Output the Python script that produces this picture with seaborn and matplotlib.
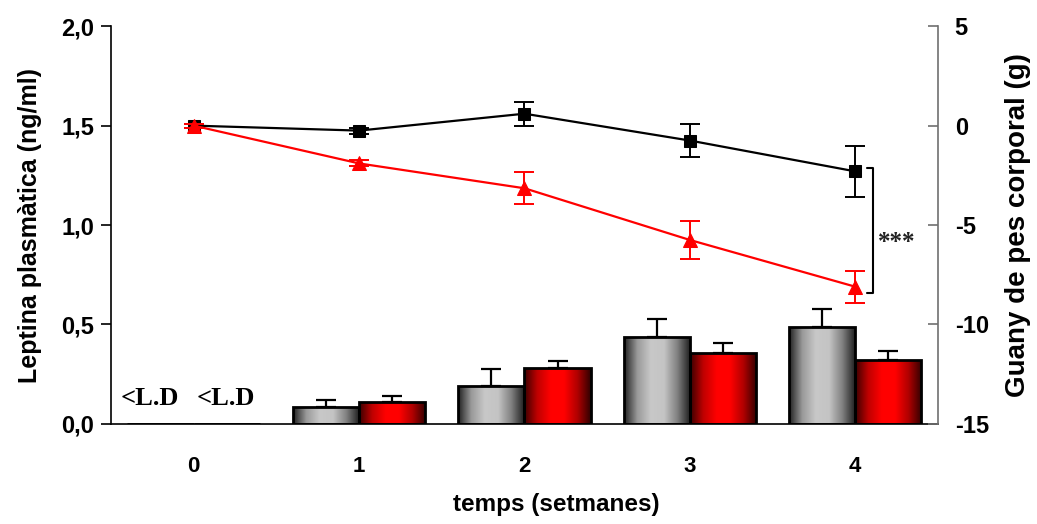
import numpy as np
import pandas as pd
import matplotlib
matplotlib.use("Agg")
import matplotlib.pyplot as plt
from matplotlib.colors import LinearSegmentedColormap
import seaborn as sns

# ==========================
# Data
# ==========================
weeks = [0, 1, 2, 3, 4]
week_labels = ["0", "1", "2", "3", "4"]

# leptin bars (left axis, ng/ml)
leptin_ctrl = [0.0, 0.085, 0.19, 0.435, 0.485]
leptin_ctrl_err = [0.0, 0.035, 0.085, 0.095, 0.095]
leptin_trt = [0.0, 0.11, 0.28, 0.355, 0.32]
leptin_trt_err = [0.0, 0.03, 0.035, 0.05, 0.045]

# body weight gain (right axis, g)
gain_ctrl = [0.0, -0.25, 0.6, -0.75, -2.3]
gain_ctrl_err = [0.1, 0.15, 0.6, 0.85, 1.3]
gain_trt = [0.0, -1.9, -3.15, -5.75, -8.1]
gain_trt_err = [0.1, 0.15, 0.8, 0.95, 0.8]

sns.set_theme(style="white")
plt.rcParams["font.family"] = ["Liberation Sans", "DejaVu Sans"]
plt.rcParams["font.weight"] = "bold"
plt.rcParams["text.color"] = "black"
plt.rcParams["axes.labelcolor"] = "black"
plt.rcParams["xtick.labelcolor"] = "black"
plt.rcParams["ytick.labelcolor"] = "black"
serif = ["Liberation Serif", "DejaVu Serif"]

fig = plt.figure(figsize=(10.37, 5.24), dpi=100)
ax = fig.add_axes([0.107, 0.191, 0.7975, 0.759])

df = pd.DataFrame({
    "week": week_labels * 2,
    "leptin": leptin_ctrl + leptin_trt,
    "group": ["ctrl"] * 5 + ["trt"] * 5,
})
sns.barplot(data=df, x="week", y="leptin", hue="group", ax=ax,
            palette={"ctrl": "#b0b0b0", "trt": "#ff0000"}, width=0.8,
            edgecolor="black", linewidth=2, legend=False, zorder=2)

# cylinder-like gradient fills
cm_gray = LinearSegmentedColormap.from_list(
    "g", ["#202020", "#9a9a9a", "#c8c8c8", "#c4c4c4", "#808080", "#1a1a1a"])
cm_red = LinearSegmentedColormap.from_list(
    "r", ["#3a0000", "#c00000", "#ff0000", "#ff0000", "#b00000", "#300000"])
grad = np.linspace(0, 1, 256).reshape(1, -1)
bars = ax.patches
for i, p in enumerate(bars):
    h = p.get_height()
    if h <= 0:
        continue
    cmap = cm_gray if i < 5 else cm_red
    p.set_facecolor("none")
    im = ax.imshow(grad, extent=[p.get_x(), p.get_x() + p.get_width(), 0, h],
                   cmap=cmap, aspect="auto", zorder=1.9, origin="lower")
    im.set_clip_path(p)

# upper error bars on the bars
xc = np.array(weeks, dtype=float)
ax.errorbar(xc[1:] - 0.2, leptin_ctrl[1:], yerr=[[0] * 4, leptin_ctrl_err[1:]],
            fmt="none", ecolor="black", elinewidth=1.6, capsize=7, capthick=1.6, zorder=3)
ax.errorbar(xc[1:] + 0.2, leptin_trt[1:], yerr=[[0] * 4, leptin_trt_err[1:]],
            fmt="none", ecolor="black", elinewidth=1.6, capsize=7, capthick=1.6, zorder=3)

for dx in (-0.264, 0.195):
    ax.text(dx, 0.07, "<L.D", family=serif, fontsize=19, fontweight="bold",
            ha="center", va="bottom", color="black")

ax.set_xlim(-0.5, 4.5)
ax.set_ylim(0, 2.0)
ax.set_yticks([0, 0.5, 1.0, 1.5, 2.0])
ax.set_yticklabels(["0,0", "0,5", "1,0", "1,5", "2,0"], fontsize=17, fontweight="bold")
ax.set_xticks(weeks)
ax.set_xticklabels(week_labels, fontsize=16, fontweight="bold")
ax.set_xticks(np.arange(-0.5, 5.0, 1.0), minor=True)
ax.tick_params(axis="x", which="major", length=0, pad=23)
ax.tick_params(axis="x", which="minor", length=7, width=1.2, direction="out", color="black")
ax.tick_params(axis="y", length=7, width=1.2, direction="out", color="black", left=True, pad=5)
ax.set_xlabel("temps (setmanes)", fontsize=17.5, fontweight="bold")
ax.xaxis.set_label_coords(0.538, -0.173)
ax.set_ylabel("Leptina plasmàtica (ng/ml)", fontsize=18, fontweight="bold", labelpad=14)
for s in ("top", "right"):
    ax.spines[s].set_visible(False)
ax.spines["left"].set_color("black")
ax.spines["bottom"].set_color("black")
ax.spines["left"].set_linewidth(1.2)
ax.spines["bottom"].set_linewidth(1.2)

# weight gain lines on the right axis
ax2 = ax.twinx()
sns.lineplot(x=weeks, y=gain_ctrl, ax=ax2, color="black", marker="s",
             markersize=8, markeredgecolor="black", linewidth=1.6, zorder=4)
ax2.errorbar(weeks, gain_ctrl, yerr=gain_ctrl_err, fmt="none", ecolor="black",
             elinewidth=1.4, capsize=7, capthick=1.4, zorder=4)
sns.lineplot(x=weeks, y=gain_trt, ax=ax2, color="red", marker="^",
             markersize=10, markeredgecolor="red", linewidth=1.6, zorder=5)
ax2.errorbar(weeks, gain_trt, yerr=gain_trt_err, fmt="none", ecolor="red",
             elinewidth=1.4, capsize=7, capthick=1.4, zorder=5)

# significance bracket
ax2.plot([4.07, 4.11, 4.11, 4.07], [-2.15, -2.15, -8.4, -8.4], color="black", lw=1.5)
ax2.text(4.135, -5.9, "***", family=serif, fontsize=18, color="#222222",
         va="center", ha="left")

ax2.set_xlim(-0.5, 4.5)
ax2.set_ylim(-15, 5)
ax2.set_yticks([-15, -10, -5, 0, 5])
ax2.set_yticklabels(["-15", "-10", "-5", "0", "5"], fontsize=17, fontweight="bold")
ax2.tick_params(axis="y", length=7, width=1.2, direction="in", color="#707070",
                labelcolor="black", right=True, pad=12)
ax2.set_ylabel("Guany de pes corporal (g)", fontsize=20, fontweight="bold", labelpad=12)
for s in ("top", "left", "bottom"):
    ax2.spines[s].set_visible(False)
ax2.spines["right"].set_color("#707070")
ax2.spines["right"].set_linewidth(1.2)
ax2.grid(False)
ax.grid(False)

fig.savefig("out.png", dpi=100)
